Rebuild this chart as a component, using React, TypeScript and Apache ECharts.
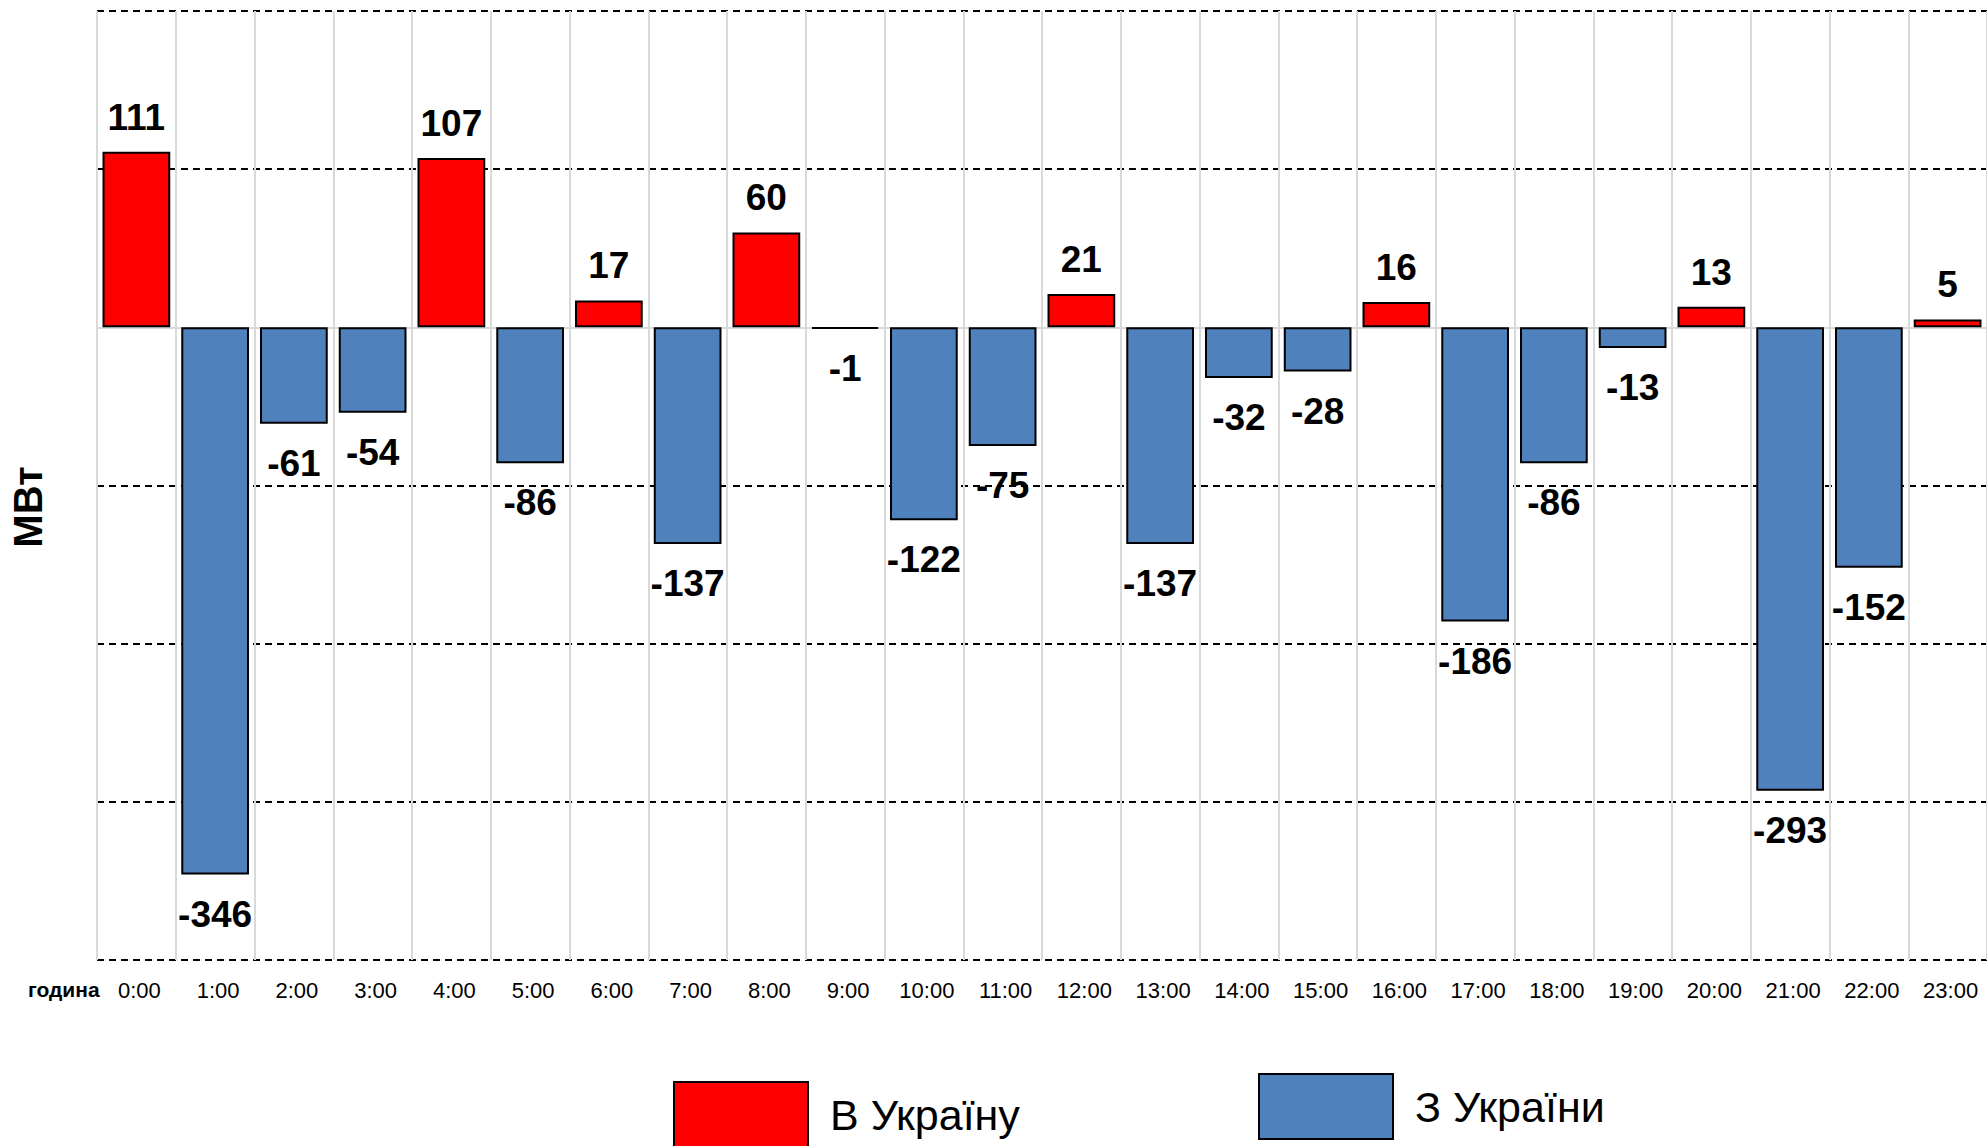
import React, { useEffect, useRef } from "react";
import * as echarts from "echarts";

const hours = ["0:00","1:00","2:00","3:00","4:00","5:00","6:00","7:00","8:00","9:00","10:00","11:00","12:00","13:00","14:00","15:00","16:00","17:00","18:00","19:00","20:00","21:00","22:00","23:00"];
const toUkraine = [111, null, null, null, 107, null, 17, null, 60, null, null, null, 21, null, null, null, 16, null, null, null, 13, null, null, 5];
const fromUkraine = [null, -346, -61, -54, null, -86, null, -137, null, -1, -122, -75, null, -137, -32, -28, null, -186, -86, -13, null, -293, -152, null];
const seriesNames = ["В Україну", "З України"];
const yMin = -400;
const yMax = 200;
const yStep = 100;

const FONT = '"Liberation Sans", Arial, sans-serif';

export default function App() {
  const ref = useRef<HTMLDivElement>(null);
  useEffect(() => {
    if (!ref.current) return;
    const chart = echarts.init(ref.current, null, { renderer: "svg" });
    const labelStyle = {
      show: true,
      fontFamily: FONT,
      fontWeight: "bold" as const,
      fontSize: 37,
      color: "#000",
      formatter: "{c}",
    };
    chart.setOption({
      animation: false,
      backgroundColor: "#fff",
      grid: { left: 97, right: 0, top: 11, bottom: 186, containLabel: false },
      xAxis: [
        {
          type: "category",
          data: hours,
          position: "bottom",
          axisLine: { show: false, onZero: false },
          axisTick: { show: false },
          axisLabel: { fontFamily: FONT, fontSize: 22, color: "#000", margin: 19, interval: 0, padding: [0, 0, 0, 6] },
          splitLine: { show: true, interval: 0, lineStyle: { color: "#d9d9d9", width: 2 } },
        },
        {
          type: "category",
          data: hours,
          position: "top",
          axisLine: { show: true, onZero: true, lineStyle: { color: "#d9d9d9", width: 2 } },
          axisTick: { show: false },
          axisLabel: { show: false },
          splitLine: { show: false },
        },
      ],
      yAxis: {
        type: "value",
        min: yMin,
        max: yMax,
        interval: yStep,
        axisLine: { show: false },
        axisTick: { show: false },
        axisLabel: { show: false },
        splitLine: {
          show: true,
          lineStyle: {
            color: ["#000", "#000", "#000", "#000", "rgba(0,0,0,0)", "#000", "#000"],
            type: [7, 5],
            width: 2,
          },
        },
      },
      legend: [
        {
          data: [seriesNames[0]],
          left: 673,
          top: 1081,
          padding: 0,
          itemWidth: 134,
          itemHeight: 65,
          icon: "rect",
          textStyle: { fontFamily: FONT, fontSize: 43, color: "#000", padding: [0, 0, 0, 17] },
        },
        {
          data: [seriesNames[1]],
          left: 1258,
          top: 1073,
          padding: 0,
          itemWidth: 134,
          itemHeight: 65,
          icon: "rect",
          textStyle: { fontFamily: FONT, fontSize: 43, color: "#000", padding: [0, 0, 0, 17] },
        },
      ],
      graphic: [
        {
          type: "text",
          left: 28,
          top: 979,
          style: { text: "година", fontFamily: FONT, fontWeight: "bold", fontSize: 21, fill: "#000" },
        },
        {
          type: "text",
          x: 28,
          y: 507,
          rotation: Math.PI / 2,
          style: {
            text: "МВт",
            fontFamily: FONT,
            fontWeight: "bold",
            fontSize: 40,
            fill: "#000",
            align: "center",
            verticalAlign: "middle",
          },
        },
      ],
      series: [
        {
          name: seriesNames[0],
          type: "bar",
          stack: "flow",
          xAxisIndex: 0,
          data: toUkraine,
          barWidth: "86%",
          itemStyle: { color: "#ff0000", borderColor: "#000", borderWidth: 2 },
          label: { ...labelStyle, position: "top", distance: 16 },
        },
        {
          name: seriesNames[1],
          type: "bar",
          stack: "flow",
          xAxisIndex: 0,
          data: fromUkraine,
          barWidth: "86%",
          itemStyle: { color: "#4f81bd", borderColor: "#000", borderWidth: 2 },
          label: { ...labelStyle, position: "bottom", distance: 21 },
        },
      ],
    });
    return () => chart.dispose();
  }, []);
  return (
    <div
      ref={ref}
      style={{ position: "absolute", left: 0, top: 0, width: 1987, height: 1146 }}
    />
  );
}
